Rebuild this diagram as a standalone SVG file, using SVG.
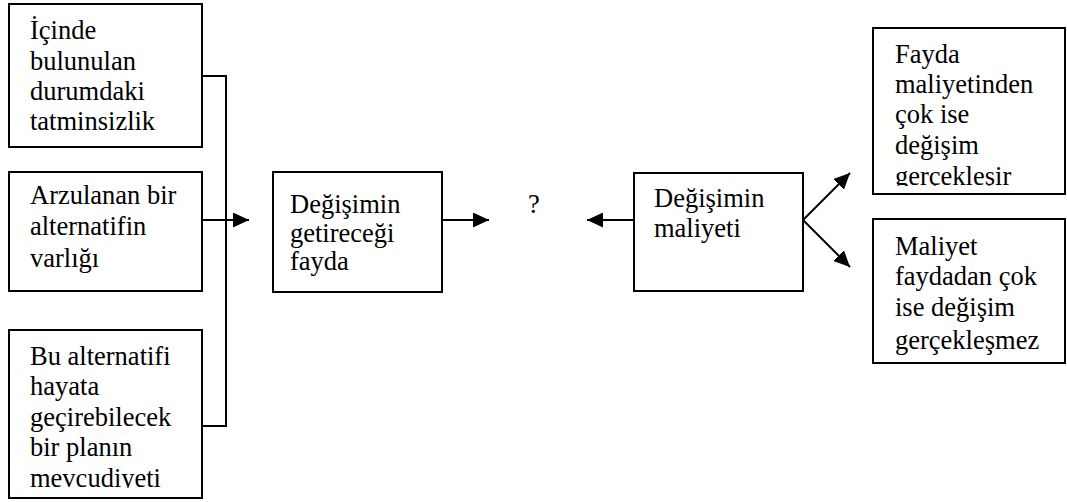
<svg xmlns="http://www.w3.org/2000/svg" width="1067" height="502" viewBox="0 0 1067 502">
  <style>
    .box { fill: #fff; stroke: #000; stroke-width: 2; }
    .lbl { font-family: "Liberation Serif", "Times New Roman", serif; font-size: 26.5px; fill: #000; }
    .wire { fill: none; stroke: #000; stroke-width: 2; }
  </style>
  <defs>
    <marker id="tip" markerUnits="userSpaceOnUse" markerWidth="16" markerHeight="15" refX="16" refY="7.5" orient="auto">
      <path d="M0,0 L16,7.5 L0,15 z" fill="#000"/>
    </marker>
    <!-- text areas of boxes whose last line runs past the inner margin -->
    <clipPath id="clipPlan"><rect x="10" y="331" width="191" height="157"/></clipPath>
    <clipPath id="clipGain"><rect x="874" y="29" width="191" height="157"/></clipPath>
  </defs>
  <rect width="1067" height="502" fill="#fff"/>

  <g id="connectors">
    <!-- three causes merge on one vertical bus -->
    <polyline class="wire" points="202,76 226,76 226,426 202,426"/>
    <line class="wire" x1="202" y1="220" x2="249" y2="220" marker-end="url(#tip)"/>
    <line class="wire" x1="442" y1="220" x2="489" y2="220" marker-end="url(#tip)"/>
    <line class="wire" x1="634" y1="220" x2="587" y2="220" marker-end="url(#tip)"/>
    <line class="wire" x1="803" y1="220" x2="850" y2="173" marker-end="url(#tip)"/>
    <line class="wire" x1="803" y1="220" x2="850" y2="267" marker-end="url(#tip)"/>
  </g>

  <g id="node-tatminsizlik">
    <rect class="box" x="9" y="4" width="193" height="143"/>
    <text class="lbl" x="30" y="39">İçinde</text>
    <text class="lbl" x="30" y="70">bulunulan</text>
    <text class="lbl" x="30" y="100">durumdaki</text>
    <text class="lbl" x="30" y="130">tatminsizlik</text>
  </g>

  <g id="node-alternatif">
    <rect class="box" x="9" y="172" width="193" height="119"/>
    <text class="lbl" x="30" y="204">Arzulanan bir</text>
    <text class="lbl" x="30" y="235">alternatifin</text>
    <text class="lbl" x="30" y="267">varlığı</text>
  </g>

  <g id="node-plan">
    <rect class="box" x="9" y="330" width="193" height="168"/>
    <g clip-path="url(#clipPlan)">
      <text class="lbl" x="30" y="365">Bu alternatifi</text>
      <text class="lbl" x="30" y="395">hayata</text>
      <text class="lbl" x="30" y="426">geçirebilecek</text>
      <text class="lbl" x="30" y="456">bir planın</text>
      <text class="lbl" x="30" y="487">mevcudiyeti</text>
    </g>
  </g>

  <g id="node-fayda">
    <rect class="box" x="273" y="172" width="169" height="120"/>
    <text class="lbl" x="290" y="213">Değişimin</text>
    <text class="lbl" x="290" y="242">getireceği</text>
    <text class="lbl" x="290" y="270">fayda</text>
  </g>

  <g id="node-soru">
    <text class="lbl" x="534" y="213" text-anchor="middle">?</text>
  </g>

  <g id="node-maliyet">
    <rect class="box" x="634" y="173" width="169" height="118"/>
    <text class="lbl" x="654" y="207">Değişimin</text>
    <text class="lbl" x="654" y="237">maliyeti</text>
  </g>

  <g id="node-gerceklesir">
    <rect class="box" x="873" y="28" width="192" height="166"/>
    <g clip-path="url(#clipGain)">
      <text class="lbl" x="895" y="63">Fayda</text>
      <text class="lbl" x="895" y="93">maliyetinden</text>
      <text class="lbl" x="895" y="123">çok ise</text>
      <text class="lbl" x="895" y="154">değişim</text>
      <text class="lbl" x="895" y="185">gerçekleşir</text>
    </g>
  </g>

  <g id="node-gerceklesmez">
    <rect class="box" x="873" y="219" width="192" height="144"/>
    <text class="lbl" x="895" y="255">Maliyet</text>
    <text class="lbl" x="895" y="285">faydadan çok</text>
    <text class="lbl" x="895" y="316">ise değişim</text>
    <text class="lbl" x="895" y="349">gerçekleşmez</text>
  </g>
</svg>
